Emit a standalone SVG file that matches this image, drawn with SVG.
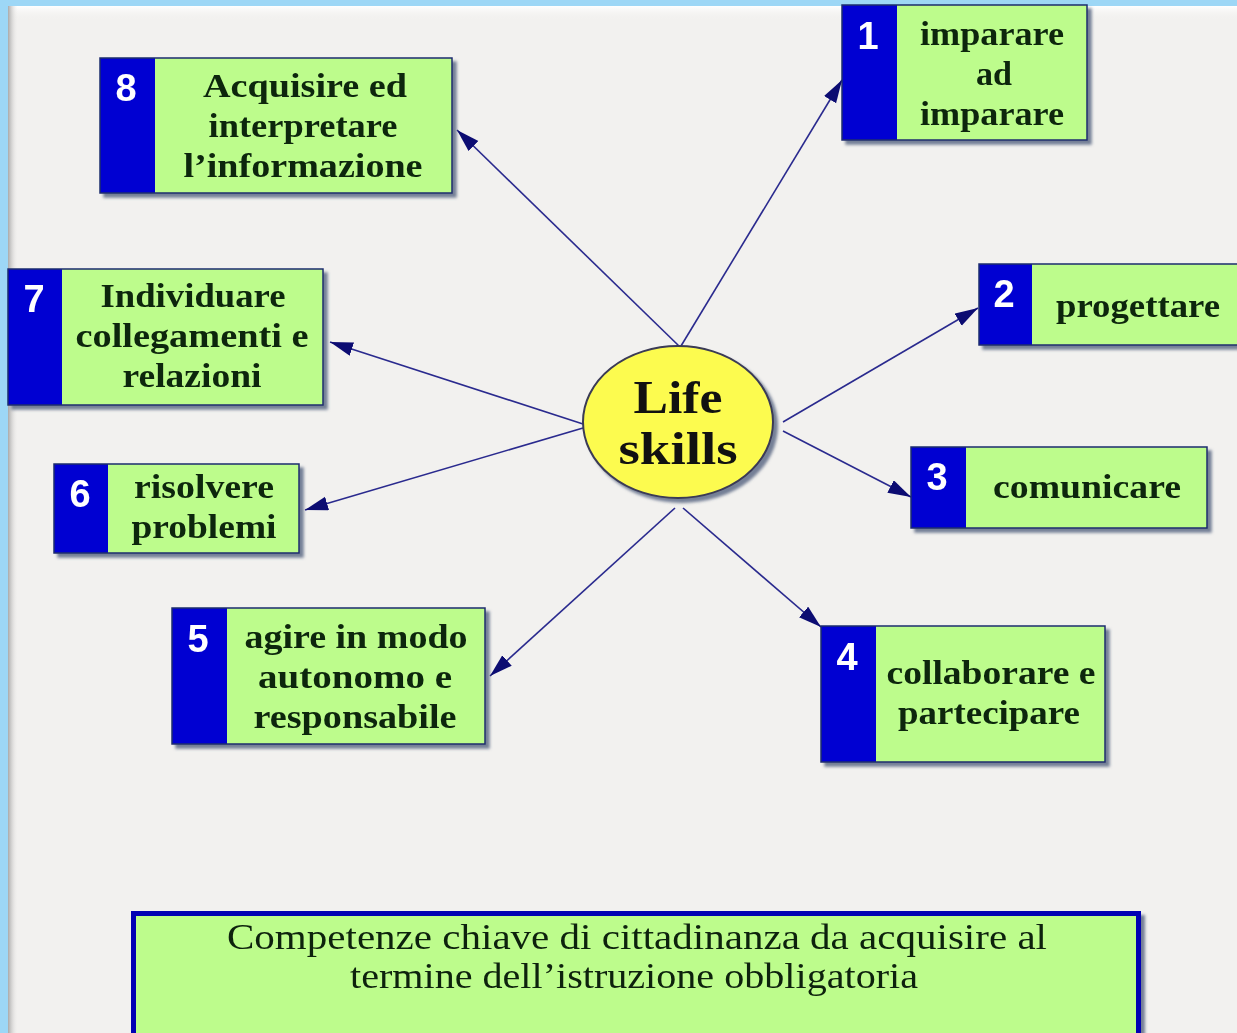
<svg xmlns="http://www.w3.org/2000/svg" width="1237" height="1033" viewBox="0 0 1237 1033">
<defs>
<style>
.bl{fill:#0606d2}
.gr{fill:#bdfc8c}
.ol{fill:none;stroke:#1d2b6e;stroke-width:1.5}
.num{font-family:"Liberation Sans",Arial,sans-serif;font-weight:bold;font-size:38px;fill:#ffffff;text-anchor:middle}
.tx{font-family:"Liberation Serif","Times New Roman",serif;font-weight:bold;font-size:33px;fill:#0c260c;text-anchor:middle}
.bt{font-family:"Liberation Serif","Times New Roman",serif;font-size:35px;fill:#0c200c;text-anchor:middle}
.cn{stroke:#2a2a8e;stroke-width:1.6;fill:none;marker-end:url(#ah)}
</style>
<filter id="sh" x="-10%" y="-10%" width="130%" height="130%">
<feDropShadow dx="4" dy="4" stdDeviation="1.5" flood-color="#4a5878" flood-opacity="0.75"/>
</filter>
<marker id="ah" markerUnits="userSpaceOnUse" markerWidth="24" markerHeight="16" refX="23" refY="7" orient="auto">
<path d="M0,0 L23,7 L0,14 z" fill="#0c0c72"/>
</marker>
<linearGradient id="lg" x1="0" y1="0" x2="1" y2="0">
<stop offset="0" stop-color="#a9a9a9"/>
<stop offset="1" stop-color="#f2f1ef" stop-opacity="0"/>
</linearGradient>
<linearGradient id="tg" x1="0" y1="0" x2="0" y2="1">
<stop offset="0" stop-color="#ffffff"/>
<stop offset="1" stop-color="#f2f1ef" stop-opacity="0"/>
</linearGradient>
</defs>
<rect x="0" y="0" width="1237" height="1033" fill="#9dd7f6"/>
<rect x="8" y="6" width="1240" height="1040" fill="#f2f1ef"/>
<rect x="8" y="6" width="1240" height="14" fill="url(#tg)"/>
<rect x="8" y="6" width="10" height="1040" fill="url(#lg)"/>

<g id="connectors">
<line class="cn" x1="681" y1="346" x2="842" y2="80"/>
<line class="cn" x1="679" y1="346" x2="457" y2="130"/>
<line class="cn" x1="783" y1="422" x2="978" y2="308"/>
<line class="cn" x1="783" y1="431" x2="911" y2="497"/>
<line class="cn" x1="683" y1="508" x2="821" y2="627"/>
<line class="cn" x1="675" y1="508" x2="490" y2="676"/>
<line class="cn" x1="583" y1="428" x2="305" y2="510"/>
<line class="cn" x1="583" y1="424" x2="330" y2="342"/>
</g>

<g id="center">
<ellipse cx="678" cy="422" rx="95" ry="76" fill="#fcfb50" stroke="#3a3a55" stroke-width="2" filter="url(#sh)"/>
<text class="tx" x="678" y="413" style="font-size:46px;fill:#111" textLength="89" lengthAdjust="spacingAndGlyphs">Life</text>
<text class="tx" x="678" y="464" style="font-size:46px;fill:#111" textLength="119" lengthAdjust="spacingAndGlyphs">skills</text>
</g>

<g id="n8" filter="url(#sh)">
<rect class="gr" x="100" y="58" width="352" height="135"/>
<rect class="bl" x="100" y="58" width="55" height="135"/>
<rect class="ol" x="100" y="58" width="352" height="135"/>
<text class="num" x="126" y="101">8</text>
<text class="tx" x="305" y="97" textLength="204" lengthAdjust="spacingAndGlyphs">Acquisire ed</text>
<text class="tx" x="303" y="137" textLength="189" lengthAdjust="spacingAndGlyphs">interpretare</text>
<text class="tx" x="303" y="177" textLength="239" lengthAdjust="spacingAndGlyphs">l’informazione</text>
</g>

<g id="n1" filter="url(#sh)">
<rect class="gr" x="842" y="5" width="245" height="135"/>
<rect class="bl" x="842" y="5" width="55" height="135"/>
<rect class="ol" x="842" y="5" width="245" height="135"/>
<text class="num" x="868" y="49">1</text>
<text class="tx" x="992" y="45" textLength="144" lengthAdjust="spacingAndGlyphs">imparare</text>
<text class="tx" x="994" y="85" textLength="36" lengthAdjust="spacingAndGlyphs">ad</text>
<text class="tx" x="992" y="125" textLength="144" lengthAdjust="spacingAndGlyphs">imparare</text>
</g>

<g id="n2" filter="url(#sh)">
<rect class="gr" x="979" y="264" width="270" height="81"/>
<rect class="bl" x="979" y="264" width="53" height="81"/>
<rect class="ol" x="979" y="264" width="270" height="81"/>
<text class="num" x="1004" y="307">2</text>
<text class="tx" x="1138" y="317" textLength="164" lengthAdjust="spacingAndGlyphs">progettare</text>
</g>

<g id="n3" filter="url(#sh)">
<rect class="gr" x="911" y="447" width="296" height="81"/>
<rect class="bl" x="911" y="447" width="55" height="81"/>
<rect class="ol" x="911" y="447" width="296" height="81"/>
<text class="num" x="937" y="490">3</text>
<text class="tx" x="1087" y="498" textLength="188" lengthAdjust="spacingAndGlyphs">comunicare</text>
</g>

<g id="n4" filter="url(#sh)">
<rect class="gr" x="821" y="626" width="284" height="136"/>
<rect class="bl" x="821" y="626" width="55" height="136"/>
<rect class="ol" x="821" y="626" width="284" height="136"/>
<text class="num" x="847" y="670">4</text>
<text class="tx" x="991" y="684" textLength="209" lengthAdjust="spacingAndGlyphs">collaborare e</text>
<text class="tx" x="989" y="724" textLength="182" lengthAdjust="spacingAndGlyphs">partecipare</text>
</g>

<g id="n5" filter="url(#sh)">
<rect class="gr" x="172" y="608" width="313" height="136"/>
<rect class="bl" x="172" y="608" width="55" height="136"/>
<rect class="ol" x="172" y="608" width="313" height="136"/>
<text class="num" x="198" y="652">5</text>
<text class="tx" x="356" y="648" textLength="223" lengthAdjust="spacingAndGlyphs">agire in modo</text>
<text class="tx" x="355" y="688" textLength="194" lengthAdjust="spacingAndGlyphs">autonomo e</text>
<text class="tx" x="355" y="728" textLength="203" lengthAdjust="spacingAndGlyphs">responsabile</text>
</g>

<g id="n6" filter="url(#sh)">
<rect class="gr" x="54" y="464" width="245" height="89"/>
<rect class="bl" x="54" y="464" width="54" height="89"/>
<rect class="ol" x="54" y="464" width="245" height="89"/>
<text class="num" x="80" y="507">6</text>
<text class="tx" x="204" y="498" textLength="140" lengthAdjust="spacingAndGlyphs">risolvere</text>
<text class="tx" x="204" y="538" textLength="145" lengthAdjust="spacingAndGlyphs">problemi</text>
</g>

<g id="n7" filter="url(#sh)">
<rect class="gr" x="8" y="269" width="315" height="136"/>
<rect class="bl" x="8" y="269" width="54" height="136"/>
<rect class="ol" x="8" y="269" width="315" height="136"/>
<text class="num" x="34" y="312">7</text>
<text class="tx" x="193" y="307" textLength="185" lengthAdjust="spacingAndGlyphs">Individuare</text>
<text class="tx" x="192" y="347" textLength="233" lengthAdjust="spacingAndGlyphs">collegamenti e</text>
<text class="tx" x="192" y="387" textLength="139" lengthAdjust="spacingAndGlyphs">relazioni</text>
</g>

<g id="footer" filter="url(#sh)">
<rect x="133.5" y="913.5" width="1005" height="130" fill="#bdfc8c" stroke="#0000b4" stroke-width="5"/>
<text class="bt" x="637" y="949" textLength="820" lengthAdjust="spacingAndGlyphs">Competenze chiave di cittadinanza da acquisire al</text>
<text class="bt" x="634" y="988" textLength="568" lengthAdjust="spacingAndGlyphs">termine dell’istruzione obbligatoria</text>
</g>
</svg>
